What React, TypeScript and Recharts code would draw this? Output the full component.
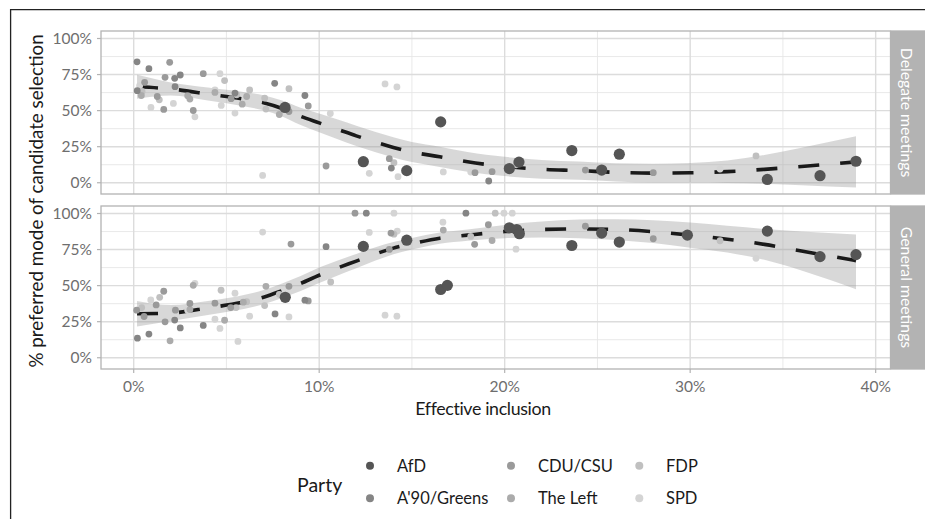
import React from 'react';
import { ComposedChart, Scatter, Line, Area, XAxis, YAxis, CartesianGrid } from 'recharts';

type Pt = [number, number];

const FONT = "Lato, 'DejaVu Sans', sans-serif";

const parties = ['AfD', "A'90/Greens", 'CDU/CSU', 'The Left', 'FDP', 'SPD'];
const partyColors = ['#555555', '#858585', '#9a9a9a', '#ababab', '#c0c0c0', '#d4d4d4'];
const partyRadius = [5.6, 3.4, 3.4, 3.4, 3.4, 3.4];

const panelLabels = ['Delegate meetings', 'General meetings'];

// Delegate meetings panel: [effective inclusion %, preferred %]
const delegateAfD: Pt[] = [[8.16, 52.2], [12.38, 14.6], [14.72, 8.4], [16.55, 42.2], [20.25, 9.8], [20.77, 14.3], [23.62, 22.3], [25.23, 8.8], [26.18, 19.8], [34.16, 2.3], [37.0, 4.9], [38.94, 14.9]];
const delegateGreens: Pt[] = [[0.18, 83.8], [0.82, 79.1], [2.21, 72.4], [2.51, 74.7], [2.23, 66.6], [0.19, 63.8], [5.46, 62.2], [7.6, 68.9], [9.23, 60.5], [13.89, 10.2], [19.14, 1.2]];
const delegateCDU: Pt[] = [[1.94, 83.5], [1.69, 73.1], [3.75, 75.6], [0.59, 69.6], [1.27, 59.8], [1.62, 50.8], [3.21, 50.1], [5.25, 58.3], [8.37, 49.4], [9.41, 53.2], [10.37, 11.6], [13.78, 16.7], [18.4, 7.0], [19.32, 7.7], [24.35, 8.8], [28.01, 7.0]];
const delegateLeft: Pt[] = [[2.91, 60.3], [3.03, 58.0], [4.38, 62.6], [5.85, 54.5], [6.09, 59.8], [7.85, 47.3], [0.41, 60.5]];
const delegateFDP: Pt[] = [[4.9, 70.8], [0.45, 63.3], [1.38, 57.5], [5.55, 61.0], [6.25, 64.3], [7.06, 58.7], [7.13, 51.1], [8.37, 65.2], [14.03, 13.9], [20.61, 12.4], [33.55, 18.6]];
const delegateSPD: Pt[] = [[4.65, 75.6], [0.36, 61.0], [0.32, 67.3], [0.93, 52.2], [2.14, 55.0], [3.3, 45.7], [4.38, 64.3], [4.72, 53.6], [5.46, 48.3], [6.95, 5.1], [10.6, 48.0], [12.7, 6.5], [13.55, 68.5], [14.19, 66.4], [14.25, 4.2], [16.69, 7.5], [18.17, 7.4], [31.61, 9.5]];

// General meetings panel
const generalAfD: Pt[] = [[8.17, 41.9], [12.38, 77.2], [14.72, 81.5], [16.55, 47.3], [16.91, 50.2], [20.25, 90.1], [20.65, 88.9], [20.79, 86.0], [23.62, 77.8], [25.23, 86.4], [26.18, 80.2], [29.85, 85.0], [34.16, 87.8], [37.0, 70.1], [38.94, 71.5]];
const generalGreens: Pt[] = [[0.2, 13.6], [0.82, 16.4], [2.21, 26.1], [2.51, 20.7], [3.75, 22.4], [7.62, 30.4], [9.23, 39.9], [10.37, 77.0], [12.54, 100.2], [17.91, 100.2]];
const generalCDU: Pt[] = [[0.16, 33.0], [0.56, 28.6], [1.21, 36.6], [1.62, 46.1], [1.69, 24.9], [2.25, 33.0], [3.03, 37.6], [4.38, 37.8], [5.23, 34.8], [8.37, 49.5], [8.48, 78.8], [9.41, 39.4], [11.93, 100.2], [13.87, 86.4], [13.78, 75.1], [18.38, 78.6], [19.12, 92.2], [24.35, 91.2], [28.01, 82.5]];
const generalLeft: Pt[] = [[1.96, 11.7], [3.03, 33.4], [3.21, 50.2], [4.9, 26.0], [5.91, 38.5], [7.13, 49.5], [16.69, 88.5], [19.32, 81.3]];
const generalFDP: Pt[] = [[0.43, 34.8], [1.4, 41.9], [4.71, 46.8], [5.52, 34.8], [6.09, 38.9], [7.06, 36.2], [7.85, 44.0], [10.62, 52.5], [14.03, 85.7], [18.17, 84.1], [19.49, 100.2], [31.61, 81.1]];
const generalSPD: Pt[] = [[0.92, 40.1], [2.16, 33.7], [2.91, 33.0], [3.3, 51.6], [4.38, 26.7], [4.65, 20.3], [5.46, 44.7], [5.62, 11.3], [6.25, 28.8], [6.95, 87.1], [8.37, 28.3], [12.7, 86.9], [13.55, 29.5], [14.19, 28.8], [14.03, 100.2], [14.21, 87.8], [16.67, 94.0], [19.96, 100.2], [20.41, 100.2], [20.61, 75.3], [33.55, 68.9]];

// Smoothed fit (loess) with confidence band
const smoothX = [0.18, 2, 4, 6, 7, 8, 9, 10, 11, 12, 13, 14, 15, 16.5, 18, 20, 22, 24, 26, 28, 30, 32, 34, 36, 38.94];
const delegateFit = [66.5, 65, 61.5, 57.8, 55.5, 51.5, 46, 41.5, 37, 32.5, 28.3, 24.5, 21.3, 18, 14.5, 11.3, 9.3, 8.4, 7.2, 6.7, 6.9, 7.7, 9.3, 11.3, 14.5];
const delegateLow = [58.2, 60.5, 57, 52.8, 50.3, 46, 40, 35, 30.2, 25.5, 21.3, 17.5, 14.3, 11, 7.7, 4.6, 2.8, 2.1, 0.9, 0.2, 0.1, -0.1, -0.7, -1.7, -3.3];
const delegateHigh = [74.8, 69.5, 66, 62.8, 60.7, 57, 52, 48, 43.8, 39.5, 35.3, 31.5, 28.3, 25, 21.3, 18, 15.8, 14.7, 13.5, 13.2, 13.7, 15.5, 19.3, 24.3, 32.3];
const generalFit = [30.5, 31, 34.5, 38.8, 42, 46.5, 51.5, 57.2, 62.3, 67, 71.8, 76, 79, 82.9, 85, 87.5, 88.9, 89.3, 88.9, 87.4, 85, 82.2, 78.6, 74, 67.3];
const generalLow = [21.6, 25.5, 29.7, 34, 37.1, 41.5, 46.3, 51.9, 57.1, 62, 67.2, 71.8, 75, 79, 81.1, 82.9, 83.4, 82.8, 81.7, 79.5, 76.3, 72.9, 67.9, 60.5, 47.5];
const generalHigh = [39.4, 36.5, 39.3, 43.6, 46.9, 51.5, 56.7, 62.5, 67.5, 72, 76.4, 80.2, 83, 86.8, 88.9, 92.1, 94.4, 95.8, 96.1, 95.3, 93.7, 91.5, 89.3, 87.5, 85.5];

const xTicks = [0, 10, 20, 30, 40];
const xMinor = [5, 15, 25, 35];
const yTicks = [0, 25, 50, 75, 100];
const yMinor = [12.5, 37.5, 62.5, 87.5];

const X_DOMAIN: [number, number] = [-1.763, 40.8];
const Y_DOMAIN: [number, number] = [-7.8, 105.2];

const delegatePoints = [delegateAfD, delegateGreens, delegateCDU, delegateLeft, delegateFDP, delegateSPD];
const generalPoints = [generalAfD, generalGreens, generalCDU, generalLeft, generalFDP, generalSPD];

const tickStyle = { fill: '#6e6e6e', fontSize: 15.5, fontFamily: FONT };

function Panel(props: {
  points: Pt[][];
  fit: number[];
  low: number[];
  high: number[];
  showX: boolean;
  top: number;
  height: number;
  margin: { top: number; right: number; bottom: number; left: number };
}) {
  const { points, fit, low, high, showX, top, height, margin } = props;
  const rows = smoothX.map((x, i) => ({ x, fit: fit[i], band: [low[i], high[i]] }));
  const order = [5, 4, 3, 2, 1, 0];
  return (
    <div style={{ position: 'absolute', left: 0, top }}>
      <ComposedChart width={925} height={height} data={rows} margin={margin}>
        <CartesianGrid horizontalValues={yMinor} verticalValues={xMinor} stroke="#e6e6e6" strokeWidth={0.9} />
        <CartesianGrid horizontalValues={yTicks} verticalValues={xTicks} stroke="#dcdcdc" strokeWidth={1.4} />
        <XAxis
          type="number"
          dataKey="x"
          domain={X_DOMAIN}
          allowDataOverflow
          ticks={xTicks}
          tickFormatter={(v: number) => `${v}%`}
          hide={!showX}
          height={40}
          axisLine={false}
          tickSize={4}
          tickMargin={8}
          tickLine={{ stroke: '#b3b3b3', strokeWidth: 1.2 }}
          tick={tickStyle}
          interval={0}
        />
        <YAxis
          type="number"
          dataKey="y"
          domain={Y_DOMAIN}
          allowDataOverflow
          ticks={yTicks}
          tickFormatter={(v: number) => `${v}%`}
          width={50}
          axisLine={false}
          tickSize={4}
          tickMargin={5}
          tickLine={{ stroke: '#b3b3b3', strokeWidth: 1.2 }}
          tick={tickStyle}
          interval={0}
        />
        <Area
          dataKey="band"
          type="monotone"
          stroke="none"
          fill="#999999"
          fillOpacity={0.38}
          isAnimationActive={false}
          activeDot={false}
        />
        <Line
          dataKey="fit"
          type="monotone"
          stroke="#1a1a1a"
          strokeWidth={3.6}
          strokeDasharray="21 21"
          dot={false}
          activeDot={false}
          isAnimationActive={false}
        />
        {order.map((pi) => (
          <Scatter
            key={parties[pi]}
            name={parties[pi]}
            data={points[pi].map(([x, y]) => ({ x, y }))}
            fill={partyColors[pi]}
            isAnimationActive={false}
            shape={(p: any) => <circle cx={p.cx} cy={p.cy} r={partyRadius[pi]} fill={partyColors[pi]} />}
          />
        ))}
      </ComposedChart>
    </div>
  );
}

export default function App() {
  const panelLeft = 101;
  const panelRight = 890.5;
  const panels = [
    { y: 31, h: 163 },
    { y: 206, h: 163 },
  ];
  return (
    <div
      style={{
        position: 'absolute',
        left: 0,
        top: 0,
        width: 925,
        height: 519,
        overflow: 'hidden',
        background: '#ffffff',
        fontFamily: FONT,
      }}
    >
      <Panel
        points={delegatePoints}
        fit={delegateFit}
        low={delegateLow}
        high={delegateHigh}
        showX={false}
        top={0}
        height={200}
        margin={{ top: 31, right: 34.5, bottom: 6, left: 51 }}
      />
      <Panel
        points={generalPoints}
        fit={generalFit}
        low={generalLow}
        high={generalHigh}
        showX={true}
        top={200}
        height={225}
        margin={{ top: 6, right: 34.5, bottom: 16, left: 51 }}
      />
      <svg
        width={925}
        height={519}
        style={{ position: 'absolute', left: 0, top: 0, pointerEvents: 'none' }}
      >
        <path d="M10.6 519 L10.6 9.6 L925 9.6" fill="none" stroke="#222222" strokeWidth={1.3} />
        {panels.map((p, i) => (
          <g key={i}>
            <rect
              x={panelLeft}
              y={p.y}
              width={panelRight - panelLeft}
              height={p.h}
              fill="none"
              stroke="#b3b3b3"
              strokeWidth={1.3}
            />
            <rect x={panelRight} y={p.y - 0.65} width={40} height={p.h + 1.3} fill="#b3b3b3" />
            <text
              x={0}
              y={0}
              transform={`translate(907.5 ${p.y + p.h / 2}) rotate(90)`}
              textAnchor="middle"
              dominantBaseline="central"
              fill="#ffffff"
              fontSize={15.8}
              fontFamily={FONT}
            >
              {panelLabels[i]}
            </text>
          </g>
        ))}
        <text
          x={0}
          y={0}
          transform="translate(35 201) rotate(-90)"
          textAnchor="middle"
          dominantBaseline="central"
          fill="#1a1a1a"
          fontSize={18.8}
          fontFamily={FONT}
        >
          % preferred mode of candidate selection
        </text>
        <text
          x={483}
          y={408}
          textAnchor="middle"
          dominantBaseline="central"
          fill="#1a1a1a"
          fontSize={17.8}
          letterSpacing={-0.35}
          fontFamily={FONT}
        >
          Effective inclusion
        </text>
        <text x={297} y={484} dominantBaseline="central" fill="#1a1a1a" fontSize={19.5} fontFamily={FONT}>
          Party
        </text>
        {parties.map((name, i) => {
          const col = Math.floor(i / 2);
          const row = i % 2;
          const dotX = [370, 511, 639.3][col];
          const labX = [397, 538, 666][col];
          const cy = row === 0 ? 465.7 : 498.3;
          return (
            <g key={name}>
              <circle cx={dotX} cy={cy} r={4} fill={partyColors[i]} />
              <text x={labX} y={cy} dominantBaseline="central" fill="#1a1a1a" fontSize={16.5} fontFamily={FONT}>
                {name}
              </text>
            </g>
          );
        })}
      </svg>
    </div>
  );
}
